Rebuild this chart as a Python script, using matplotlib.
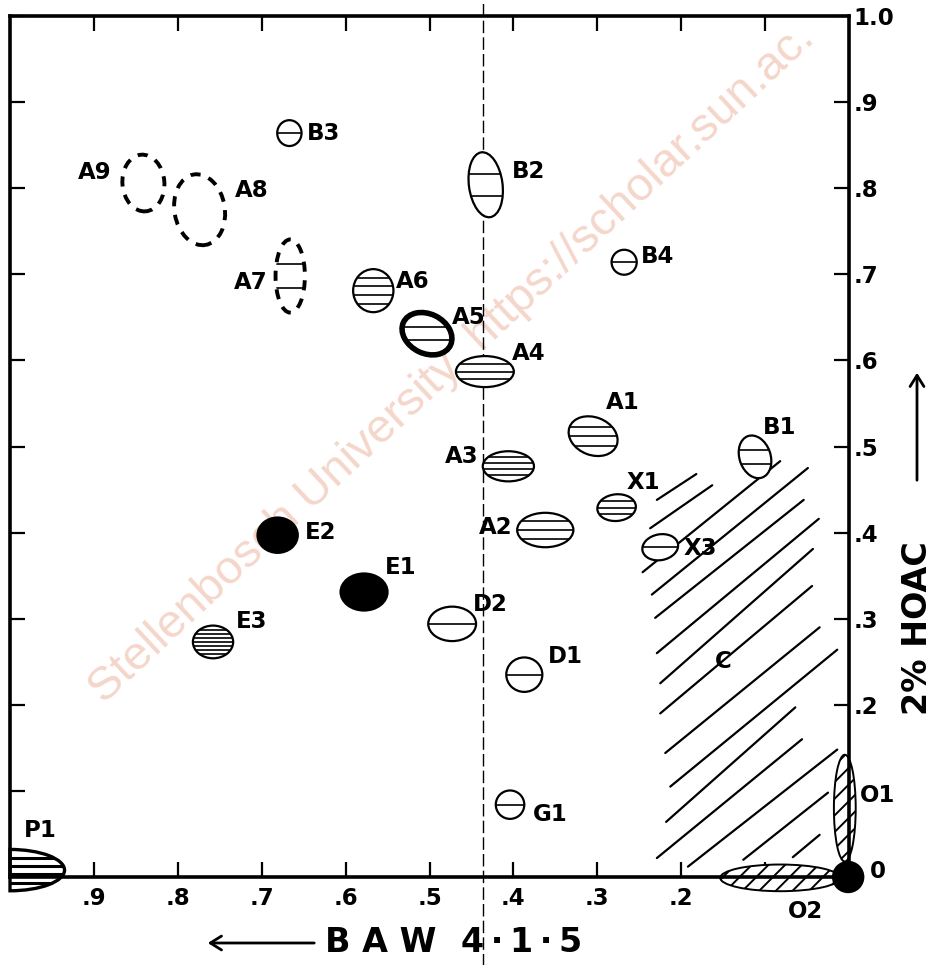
import matplotlib
matplotlib.use("Agg")
import matplotlib.pyplot as plt
from matplotlib.patches import Ellipse, Wedge, FancyArrowPatch
from matplotlib.transforms import Affine2D

# ---------------- data (Rf values) ----------------
spot_names = ["B3", "A9", "A8", "A7", "A6", "A5", "B2", "B4", "A4", "A1", "B1",
              "A3", "X1", "A2", "X3", "E2", "E1", "D2", "E3", "D1", "G1",
              "P1", "O1", "O2", "0"]
rf_baw = [0.667, 0.841, 0.774, 0.666, 0.567, 0.503, 0.433, 0.268, 0.434, 0.305, 0.112,
          0.406, 0.277, 0.362, 0.225, 0.681, 0.578, 0.473, 0.758, 0.387, 0.404,
          1.000, 0.005, 0.082, 0.001]
rf_hoac = [0.864, 0.806, 0.775, 0.698, 0.681, 0.631, 0.804, 0.714, 0.587, 0.512, 0.488,
           0.477, 0.429, 0.403, 0.383, 0.397, 0.331, 0.294, 0.273, 0.235, 0.084,
           0.008, 0.080, -0.001, 0.000]
spot_width = [0.029, 0.050, 0.060, 0.035, 0.048, 0.062, 0.040, 0.030, 0.069, 0.060, 0.037,
              0.061, 0.046, 0.067, 0.043, 0.048, 0.056, 0.057, 0.048, 0.043, 0.034,
              0.130, 0.026, 0.143, 0.036]
spot_height = [0.030, 0.066, 0.083, 0.085, 0.050, 0.046, 0.076, 0.029, 0.036, 0.044, 0.051,
               0.035, 0.031, 0.040, 0.030, 0.041, 0.043, 0.040, 0.038, 0.040, 0.033,
               0.048, 0.124, 0.031, 0.035]

# region C: hand-drawn diagonal hatch strokes (start / end Rf)
c_baw0 = [0.229, 0.237, 0.246, 0.235, 0.231, 0.229, 0.225, 0.225, 0.219, 0.213, 0.218, 0.229, 0.192, 0.126, 0.067]
c_hoac0 = [0.438, 0.405, 0.354, 0.328, 0.301, 0.260, 0.225, 0.190, 0.144, 0.105, 0.064, 0.022, 0.012, 0.020, 0.023]
c_baw1 = [0.182, 0.163, 0.082, 0.049, 0.054, 0.036, 0.043, 0.044, 0.035, 0.014, 0.064, 0.056, 0.014, 0.025, 0.035]
c_hoac1 = [0.468, 0.455, 0.483, 0.475, 0.438, 0.416, 0.381, 0.338, 0.290, 0.264, 0.197, 0.160, 0.148, 0.098, 0.049]
c_label = "C"
c_label_rf = (0.150, 0.250)

reference_line_rf = 0.436

x_ticks = [0.9, 0.8, 0.7, 0.6, 0.5, 0.4, 0.3, 0.2, 0.1]
x_tick_labels = [".9", ".8", ".7", ".6", ".5", ".4", ".3", ".2", ""]
y_ticks = [0.1, 0.2, 0.3, 0.4, 0.5, 0.6, 0.7, 0.8, 0.9, 1.0]
y_tick_labels = ["", ".2", ".3", ".4", ".5", ".6", ".7", ".8", ".9", "1.0"]

x_title_a = "B A W"
x_title_b = "4\u2009\u00b7\u20091\u2009\u00b7\u20095"
y_title = "2% HOAC"
watermark = "Stellenbosch University  https://scholar.sun.ac."

# ---------------- styles ----------------
spot_style = ["open", "dashed", "dashed", "dashed", "open", "bold", "open", "open", "open", "open", "open",
              "open", "open", "open", "open", "solid", "solid", "open", "open", "open", "open",
              "half", "diag", "diag", "solid"]
spot_lines = [1, 0, 0, 2, 4, 2, 2, 1, 3, 3, 2,
              4, 3, 3, 1, 0, 0, 1, 7, 1, 1,
              4, 0, 0, 0]
spot_angle = [0, 5, 10, 0, 0, -25, 8, 0, 0, -20, 20,
              0, 5, 0, 10, 0, 0, 0, 0, 0, 0,
              0, 0, 0, 0]
label_dx = [17, -32, 35, -23, 23, 25, 26, 17, 27, 13, 8,
            -30, 10, -33, 23, 27, 21, 21, 23, 24, 23,
            14, 15, 25, 22]
label_dy = [0, 11, 19, -6, 9, 16, 13, 6, 18, 34, 29,
            10, 25, 3, -1, 3, 25, 19, 20, 18, -10,
            40, 13, -34, 5]
label_ha = ["left", "right", "left", "right", "left", "left", "left", "left", "left", "left", "left",
            "right", "left", "right", "left", "left", "left", "left", "left", "left", "left",
            "left", "left", "center", "left"]

FS = 16.5
plt.rcParams["font.family"] = ["DejaVu Sans"]
plt.rcParams["font.weight"] = "bold"
plt.rcParams["hatch.linewidth"] = 1.4

fig = plt.figure(figsize=(9.37, 9.65), dpi=100)
ax = fig.add_axes([10 / 937, 1 - 877 / 965, 839 / 937, 861 / 965])
ax.set_xlim(1.0, 0.0)
ax.set_ylim(0.0, 1.0)
for s in ax.spines.values():
    s.set_linewidth(2.6)
    s.set_zorder(4)

ax.set_xticks(x_ticks)
ax.set_xticklabels(x_tick_labels, fontweight="bold")
ax.set_yticks(y_ticks)
ax.set_yticklabels(y_tick_labels, fontweight="bold")
ax.tick_params(axis="both", direction="in", length=11, width=1.6, labelsize=FS,
               top=True, bottom=True, left=True, right=True,
               labelleft=False, labelright=True, labeltop=False, labelbottom=True)
ax.tick_params(axis="x", pad=7)
ax.tick_params(axis="y", pad=3)

# watermark
ax.text(0.888, 0.200, watermark, transform=ax.transData, rotation=43,
        rotation_mode="anchor", ha="left", va="baseline", fontsize=34,
        fontweight="normal", color="#f4d6ca", family=["Liberation Sans"], zorder=0,
        clip_on=False)

# vertical reference line
ax.plot([reference_line_rf, reference_line_rf], [-0.105, 1.02], color="black", lw=1.0,
        ls=(0, (9, 3)), clip_on=False, zorder=1)

# region C strokes
for x0, y0, x1, y1 in zip(c_baw0, c_hoac0, c_baw1, c_hoac1):
    ax.plot([x0, x1], [y0, y1], color="black", lw=1.6, solid_capstyle="round", zorder=2)
ax.text(c_label_rf[0], c_label_rf[1], c_label, fontsize=FS, ha="center", va="center", zorder=3)

# spots
for i, name in enumerate(spot_names):
    x, y, w, h = rf_baw[i], rf_hoac[i], spot_width[i], spot_height[i]
    st = spot_style[i]
    kw = dict(edgecolor="black", facecolor="white", lw=1.6, zorder=3)
    if st == "bold":
        kw["lw"] = 4.0
    elif st == "dashed":
        kw["lw"] = 2.8
        kw["ls"] = (0, (2.6, 2.2))
        kw["facecolor"] = "none"
    elif st == "solid":
        kw["facecolor"] = "black"
    elif st == "diag":
        kw["hatch"] = "//"
        kw["lw"] = 1.4
    if st == "half":
        # half spot sitting on the start line: unit half-disc scaled to the spot size
        kw["lw"] = 2.4
        tr = Affine2D().scale(w / 2, h / 2).translate(x, y) + ax.transData
        e = Wedge((0, 0), 1.0, 90, 270, transform=tr, **kw)
        ax.add_patch(e)
        e.set_transform(tr)
        e.set_clip_on(False)
    else:
        e = Ellipse((x, y), w, h, angle=-spot_angle[i], **kw)
        ax.add_patch(e)
    if name in ("O1", "O2", "0"):
        e.set_clip_on(False)
        e.set_zorder(5 if name == "0" else 4)
    nl = spot_lines[i]
    for k in range(nl):
        yy = y - h / 2 + h * (k + 1) / (nl + 1)
        ln, = ax.plot([x - w, x + w], [yy, yy], color="black",
                      lw=2.2 if st == "half" else 1.2, zorder=3.5)
        if st == "half":
            ln.set_clip_box(None)
        ln.set_clip_path(e)
    ax.annotate(name, (x, y), xytext=(label_dx[i], label_dy[i]), textcoords="offset pixels",
                ha=label_ha[i], va="center", fontsize=FS, zorder=6, annotation_clip=False)

# axis titles and arrows
fig.text(381 / 937, 1 - 943 / 965, x_title_a, ha="center", va="center", fontsize=24, fontweight="bold")
fig.text(522 / 937, 1 - 943 / 965, x_title_b, ha="center", va="center", fontsize=24, fontweight="bold")
fig.text(918 / 937, 1 - 628 / 965, y_title, ha="center", va="center", fontsize=24,
         fontweight="bold", rotation=90)
fig.patches.append(FancyArrowPatch(
    (317 / 937, 1 - 943 / 965), (205 / 937, 1 - 943 / 965), transform=fig.transFigure,
    arrowstyle="->,head_length=8,head_width=5", lw=2.0, color="black"))
fig.patches.append(FancyArrowPatch(
    (917 / 937, 1 - 483 / 965), (917 / 937, 1 - 370 / 965), transform=fig.transFigure,
    arrowstyle="->,head_length=8,head_width=5", lw=2.0, color="black"))

fig.savefig("out.png", dpi=100)
